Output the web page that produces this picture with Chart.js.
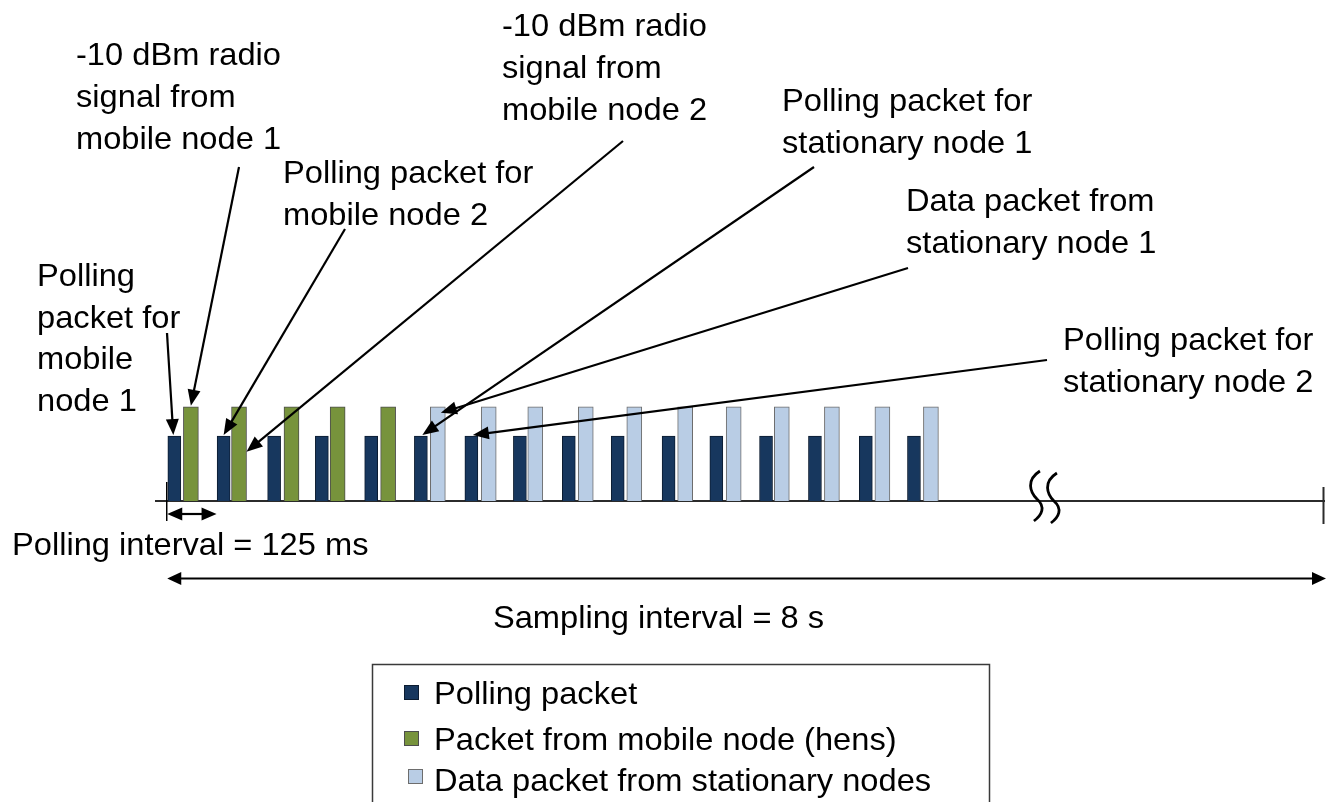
<!DOCTYPE html>
<html><head><meta charset="utf-8">
<script src="https://cdn.jsdelivr.net/npm/chart.js@4.4.0/dist/chart.umd.min.js"></script>
<style>html,body{margin:0;padding:0;background:#fff;overflow:hidden}canvas{display:block}</style>
</head><body>
<canvas id="c" width="1328" height="802"></canvas>
<script>
// ---- data (times in ms, bar centres; levels in relative packet height) ----
const seriesLabels = ['Polling packet', 'Packet from mobile node (hens)', 'Data packet from stationary nodes'];
const pollingTimes = [18, 143, 271, 392, 517, 643, 771, 894, 1018, 1142, 1271, 1392, 1518, 1642, 1771, 1893];
const pollingLevels = [1, 1, 1, 1, 1, 1, 1, 1, 1, 1, 1, 1, 1, 1, 1, 1];
const mobileTimes = [60, 182, 315, 432, 560];
const mobileLevels = [1.45, 1.45, 1.45, 1.45, 1.45];
const stationaryTimes = [686, 815, 933, 1061, 1184, 1313, 1436, 1558, 1685, 1813, 1936];
const stationaryLevels = [1.45, 1.45, 1.45, 1.45, 1.45, 1.45, 1.45, 1.45, 1.45, 1.45, 1.45];
const pollingInterval = { from: 0, to: 125, label: 'Polling interval = 125 ms' };
const samplingInterval = { from: 0, label: 'Sampling interval = 8 s' };
const axisBreakAt = 2225; // ms, where the time axis is broken

const toPoints = (xs, ys) => xs.map((x, i) => ({ x: x, y: ys[i] }));

// ---- annotation callouts (text layout in px, target bars by dataset/index) ----
const callouts = [
  { lines: ['Polling', 'packet for', 'mobile', 'node 1'], x: 37, y: 286, lh: 41.7, from: [167, 333], ds: 0, idx: 0, dx: -1, dy: -1 },
  { lines: ['-10 dBm radio', 'signal from', 'mobile node 1'], x: 76, y: 65, lh: 42, from: [239, 167], ds: 1, idx: 0, dx: 0, dy: -1 },
  { lines: ['Polling packet for', 'mobile node 2'], x: 283, y: 183, lh: 41.5, from: [345, 229], ds: 0, idx: 1, dx: 0, dy: -1 },
  { lines: ['-10 dBm radio', 'signal from', 'mobile node 2'], x: 502, y: 35.5, lh: 42, from: [623, 141], ds: 1, idx: 1, dx: 'right', dy: 45 },
  { lines: ['Polling packet for', 'stationary node 1'], x: 782, y: 111, lh: 42, from: [814, 167], ds: 0, idx: 5, dx: 1.5, dy: -1 },
  { lines: ['Data packet from', 'stationary node 1'], x: 906, y: 211, lh: 42.3, from: [908, 268], ds: 2, idx: 0, dx: 3, dy: 6 },
  { lines: ['Polling packet for', 'stationary node 2'], x: 1063, y: 350, lh: 41.7, from: [1047, 360], ds: 0, idx: 6, dx: 1.5, dy: -1 }
];

const FONT = '"Liberation Sans", Arial, Helvetica, sans-serif';
const FS = 32, SX = 1.02;

function drawText(ctx, s, x, y, size, sx, align) {
  ctx.save();
  ctx.font = size + 'px ' + FONT;
  ctx.textBaseline = 'alphabetic';
  ctx.textAlign = 'left';
  ctx.fillStyle = '#000';
  const w = ctx.measureText(s).width * sx;
  const xx = align === 'center' ? x - w / 2 : x;
  ctx.translate(xx, y);
  ctx.scale(sx, 1);
  ctx.fillText(s, 0, 0);
  ctx.restore();
}

function head(ctx, x1, y1, x2, y2, len, half) {
  const a = Math.atan2(y2 - y1, x2 - x1);
  const c = Math.cos(a), s = Math.sin(a);
  ctx.beginPath();
  ctx.moveTo(x2, y2);
  ctx.lineTo(x2 - len * c + half * s, y2 - len * s - half * c);
  ctx.lineTo(x2 - len * c - half * s, y2 - len * s + half * c);
  ctx.closePath();
  ctx.fill();
}

function arrow(ctx, x1, y1, x2, y2, len, half, lw, both) {
  const a = Math.atan2(y2 - y1, x2 - x1);
  const c = Math.cos(a), s = Math.sin(a);
  ctx.lineWidth = lw;
  ctx.beginPath();
  ctx.moveTo(both ? x1 + len * 0.7 * c : x1, both ? y1 + len * 0.7 * s : y1);
  ctx.lineTo(x2 - len * 0.7 * c, y2 - len * 0.7 * s);
  ctx.stroke();
  head(ctx, x1, y1, x2, y2, len, half);
  if (both) head(ctx, x2, y2, x1, y1, len, half);
}

const diagramPlugin = {
  id: 'diagram',
  beforeDatasetsDraw(chart) {
    const ctx = chart.ctx, ys = chart.scales.y;
    const y0 = ys.getPixelForValue(0);
    ctx.save();
    ctx.strokeStyle = '#2b2b2b';
    ctx.lineWidth = 2;
    ctx.beginPath();
    ctx.moveTo(chart.chartArea.left, y0);
    ctx.lineTo(chart.chartArea.right, y0);
    ctx.stroke();
    ctx.restore();
  },
  afterDatasetsDraw(chart) {
    const ctx = chart.ctx, xs = chart.scales.x, ys = chart.scales.y, ca = chart.chartArea;
    const y0 = ys.getPixelForValue(0);
    ctx.save();
    ctx.strokeStyle = '#000';
    ctx.fillStyle = '#000';
    ctx.lineCap = 'butt';

    // axis end tick
    ctx.lineWidth = 2;
    ctx.strokeStyle = '#2b2b2b';
    ctx.beginPath(); ctx.moveTo(ca.right - 1.5, y0 - 14); ctx.lineTo(ca.right - 1.5, y0 + 23); ctx.stroke();

    // axis break symbol
    const bx = xs.getPixelForValue(axisBreakAt);
    ctx.lineWidth = 2.8;
    ctx.strokeStyle = '#000';
    [[0, 0], [17, 2]].forEach(([ox, oy]) => {
      const cx = bx + ox, cy = y0 + oy;
      ctx.beginPath();
      ctx.moveTo(cx - 5, cy - 30);
      ctx.bezierCurveTo(cx - 19, cy - 21, cx - 15, cy - 9, cx - 8, cy - 2);
      ctx.bezierCurveTo(cx + 1, cy + 6, cx - 3, cy + 14, cx - 11, cy + 20);
      ctx.stroke();
    });

    // polling interval marker
    const pA = xs.getPixelForValue(pollingInterval.from), pB = xs.getPixelForValue(pollingInterval.to);
    ctx.strokeStyle = '#000';
    ctx.lineWidth = 1.5;
    ctx.beginPath(); ctx.moveTo(pA - 0.5, y0 - 19); ctx.lineTo(pA - 0.5, y0 + 20); ctx.stroke();
    arrow(ctx, pA, y0 + 13, pB, y0 + 13, 15, 6.5, 2.2, true);
    drawText(ctx, pollingInterval.label, 12, 555, FS, SX, 'left');

    // sampling interval arrow
    const sA = xs.getPixelForValue(samplingInterval.from);
    arrow(ctx, sA, 578.5, ca.right + 1, 578.5, 14, 6.5, 2.2, true);
    drawText(ctx, samplingInterval.label, 658.5, 628, FS, SX, 'center');

    // callouts
    callouts.forEach(c => {
      c.lines.forEach((t, i) => drawText(ctx, t, c.x, c.y + i * c.lh, FS, SX, 'left'));
      const el = chart.getDatasetMeta(c.ds).data[c.idx];
      let tx, ty;
      if (c.dx === 'right') { tx = el.x + el.width / 2; ty = el.y + c.dy; }
      else { tx = el.x + c.dx; ty = el.y + c.dy; }
      ctx.strokeStyle = '#000';
      ctx.fillStyle = '#000';
      arrow(ctx, c.from[0], c.from[1], tx, ty, 16, 6.5, 2.2, false);
    });

    // legend box
    ctx.strokeStyle = '#3a3a3a';
    ctx.lineWidth = 1.5;
    ctx.strokeRect(372.5, 664.5, 617, 200);
    const legendPos = [
      { sq: [404, 685], tx: 434, ty: 704 },
      { sq: [404, 731], tx: 434, ty: 750 },
      { sq: [408, 769], tx: 434, ty: 791 }
    ];
    chart.data.datasets.forEach((d, i) => {
      const p = legendPos[i];
      ctx.fillStyle = d.backgroundColor;
      ctx.fillRect(p.sq[0], p.sq[1], 15, 15);
      ctx.strokeStyle = d.borderColor;
      ctx.lineWidth = 1;
      ctx.strokeRect(p.sq[0] + 0.5, p.sq[1] + 0.5, 14, 14);
      drawText(ctx, d.label, p.tx, p.ty, FS, SX, 'left');
    });
    ctx.restore();
  }
};

new Chart(document.getElementById('c'), {
  type: 'bar',
  data: {
    datasets: [
      { label: seriesLabels[0], data: toPoints(pollingTimes, pollingLevels), backgroundColor: '#17375E', borderColor: '#0c1c30', borderWidth: 1, barThickness: 13 },
      { label: seriesLabels[1], data: toPoints(mobileTimes, mobileLevels), backgroundColor: '#77933C', borderColor: '#4d4d4d', borderWidth: 1, barThickness: 15 },
      { label: seriesLabels[2], data: toPoints(stationaryTimes, stationaryLevels), backgroundColor: '#B9CDE5', borderColor: '#6d6d6d', borderWidth: 1, barThickness: 15 }
    ]
  },
  options: {
    responsive: false,
    animation: false,
    devicePixelRatio: 1,
    layout: { padding: { left: 155, right: 3, top: 111, bottom: 301 } },
    datasets: { bar: { grouped: false, borderSkipped: 'start' } },
    scales: {
      x: { type: 'linear', min: -31, max: 2935, offset: false, display: false },
      y: { type: 'linear', min: 0, max: 6, display: false }
    },
    plugins: { legend: { display: false }, tooltip: { enabled: false } }
  },
  plugins: [diagramPlugin]
});
</script>
</body></html>
